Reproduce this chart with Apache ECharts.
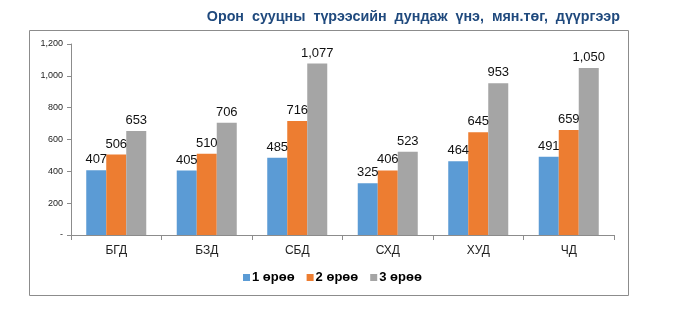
<!DOCTYPE html>
<html>
<head>
<meta charset="utf-8">
<script src="https://cdn.jsdelivr.net/npm/echarts@6/dist/echarts.min.js"></script>
<style>html,body{margin:0;padding:0;background:#fff}#c{width:677px;height:322px}</style>
</head>
<body>
<div id="c"></div>
<script>
const categories = ['БГД', 'БЗД', 'СБД', 'СХД', 'ХУД', 'ЧД'];
const seriesNames = ['1 өрөө', '2 өрөө', '3 өрөө'];
const room1 = [407, 405, 485, 325, 464, 491];
const room2 = [506, 510, 716, 406, 645, 659];
const room3 = [653, 706, 1077, 523, 953, 1050];
const yTicks = { min: 0, max: 1200, interval: 200 };
const colors = ['#5B9BD5', '#ED7D31', '#A5A5A5'];

const fmt = v => v.toLocaleString('en-US');
const chart = echarts.init(document.getElementById('c'), null, { renderer: 'canvas' });
const data = [room1, room2, room3];
chart.setOption({
  animation: false,
  title: {
    text: 'Орон  сууцны  түрээсийн  дундаж  үнэ,  мян.төг,  дүүргээр',
    right: 52, top: 5,
    textStyle: { color: '#1F497D', fontSize: 14.3, fontWeight: 'bold', fontFamily: 'Liberation Sans, Arial, sans-serif' }
  },
  graphic: [{
    type: 'rect', shape: { x: 29.5, y: 30.5, width: 599, height: 265 },
    style: { fill: 'none', stroke: '#8c8c8c', lineWidth: 1 }, silent: true
  }],
  legend: {
    data: seriesNames, bottom: 33, left: 238, itemWidth: 7, itemHeight: 7, itemGap: 12,
    icon: 'rect',
    textStyle: { fontSize: 13, fontWeight: 'bold', color: '#000', fontFamily: 'Liberation Sans, Arial, sans-serif', padding: [0, 0, 0, -3] }
  },
  grid: { left: 71, right: 63, top: 44, bottom: 87, containLabel: false },
  xAxis: {
    type: 'category', data: categories,
    axisLine: { lineStyle: { color: '#8c8c8c' } },
    axisTick: { show: true, length: 5, lineStyle: { color: '#8c8c8c' } },
    axisLabel: { fontSize: 12, color: '#222', margin: 10, fontFamily: 'Liberation Sans, Arial, sans-serif' }
  },
  yAxis: {
    type: 'value', min: yTicks.min, max: yTicks.max, interval: yTicks.interval,
    splitLine: { show: false },
    axisLine: { show: true, lineStyle: { color: '#8c8c8c' } },
    axisTick: { show: true, length: 4, lineStyle: { color: '#8c8c8c' } },
    axisLabel: { fontSize: 9, color: '#222', margin: 8, fontFamily: 'Liberation Sans, Arial, sans-serif',
      formatter: v => v === 0 ? '-' : fmt(v) }
  },
  series: seriesNames.map((n, i) => ({
    name: n, type: 'bar', data: data[i], barGap: '0%', barCategoryGap: '33.7%',
    itemStyle: { color: colors[i] },
    label: { show: true, position: 'top', distance: 4, fontSize: 13, color: '#111',
      fontFamily: 'Liberation Sans, Arial, sans-serif', formatter: p => fmt(p.value) }
  }))
});
</script>
</body>
</html>
